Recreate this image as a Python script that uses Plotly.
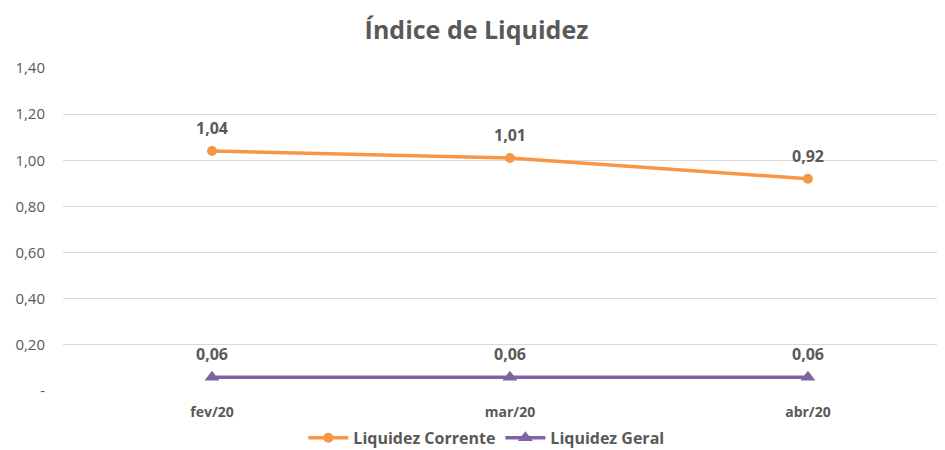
import plotly.graph_objects as go

categories = ["fev/20", "mar/20", "abr/20"]
corrente = [1.04, 1.01, 0.92]
geral = [0.06, 0.06, 0.06]
ytick_vals = [0, 0.2, 0.4, 0.6, 0.8, 1.0, 1.2, 1.4]
ytick_text = ["-", "0,20", "0,40", "0,60", "0,80", "1,00", "1,20", "1,40"]

def fmt(v):
    return f"{v:.2f}".replace(".", ",")

x_idx = list(range(len(categories)))
FONT = "Open Sans"
GREY = "#595959"

fig = go.Figure()
fig.add_trace(go.Scatter(
    x=x_idx, y=corrente, name="Liquidez Corrente", mode="lines+markers",
    line=dict(color="#F79646", width=3.5),
    marker=dict(symbol="circle", size=10, color="#F79646"),
))
fig.add_trace(go.Scatter(
    x=x_idx, y=geral, name="Liquidez Geral", mode="lines+markers",
    line=dict(color="#8064A2", width=3.5),
    marker=dict(symbol="triangle-up", size=13, color="#8064A2"),
))

for series in (corrente, geral):
    for xi, v in zip(x_idx, series):
        fig.add_annotation(x=xi, y=v, text=fmt(v), showarrow=False,
                           yshift=23, font=dict(family=FONT, size=16, color=GREY, weight="bold"))

fig.update_layout(
    width=937, height=442,
    margin=dict(l=55, r=0, t=60, b=59, autoexpand=False),
    paper_bgcolor="white", plot_bgcolor="white",
    title=dict(text="Índice de Liquidez", x=0.5, xanchor="center", y=0.95, yanchor="middle",
               yref="container",
               font=dict(family=FONT, size=25, color=GREY, weight="bold")),
    font=dict(family=FONT, color=GREY),
    showlegend=True,
    legend=dict(orientation="h", x=0.48, xanchor="center", y=-0.145, yanchor="middle",
                yref="paper", itemwidth=40,
                font=dict(family=FONT, size=16, color=GREY, weight="bold")),
)
fig.update_xaxes(
    range=[-0.5, 2.46], tickvals=x_idx, ticktext=categories,
    showgrid=False, zeroline=False, showline=False, automargin=False,
    tickfont=dict(family=FONT, size=14, color=GREY, weight="bold"),
    ticks="", ticklabelstandoff=11,
)
fig.update_yaxes(
    range=[0, 1.4], tickvals=ytick_vals, ticktext=ytick_text,
    showgrid=True, gridcolor="#D9D9D9", gridwidth=1, zeroline=False, automargin=False,
    tickfont=dict(family=FONT, size=15, color=GREY),
    ticks="", ticklabelstandoff=17,
)

fig.write_html("out.html")
